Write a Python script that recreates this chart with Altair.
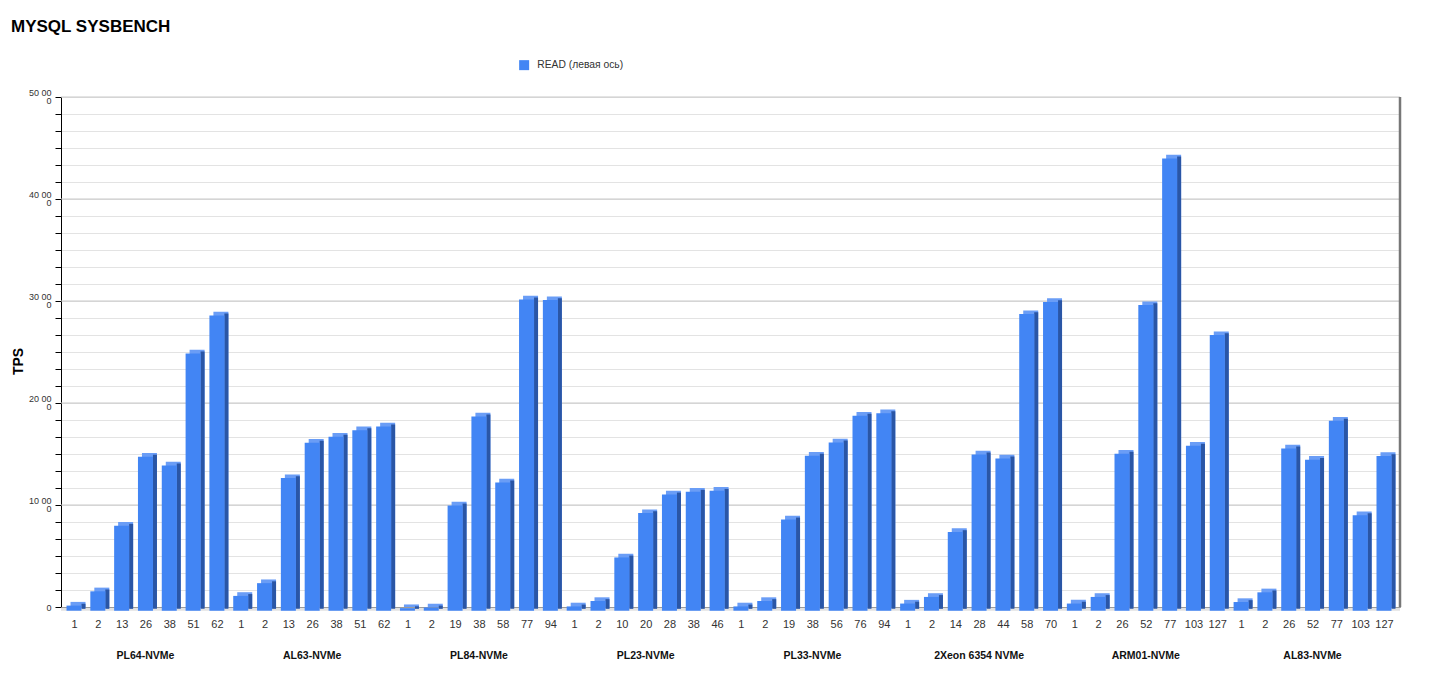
import altair as alt
import pandas as pd

# ---------------- data ----------------
groups = ["PL64-NVMe", "AL63-NVMe", "PL84-NVMe", "PL23-NVMe",
          "PL33-NVMe", "2Xeon 6354 NVMe", "ARM01-NVMe", "AL83-NVMe"]
threads = [
    ["1", "2", "13", "26", "38", "51", "62"],
    ["1", "2", "13", "26", "38", "51", "62"],
    ["1", "2", "19", "38", "58", "77", "94"],
    ["1", "2", "10", "20", "28", "38", "46"],
    ["1", "2", "19", "38", "56", "76", "94"],
    ["1", "2", "14", "28", "44", "58", "70"],
    ["1", "2", "26", "52", "77", "103", "127"],
    ["1", "2", "26", "52", "77", "103", "127"],
]
read_tps = [
    [500, 1900, 8330, 15100, 14240, 25220, 28950],
    [1450, 2700, 13000, 16470, 17060, 17700, 18070],
    [250, 320, 10320, 19050, 12580, 30520, 30450],
    [420, 950, 5220, 9570, 11400, 11670, 11760],
    [420, 950, 8950, 15200, 16500, 19120, 19370],
    [700, 1350, 7710, 15320, 14930, 29080, 30260],
    [700, 1350, 15390, 29960, 44340, 16180, 27020],
    [850, 1800, 15910, 14800, 18630, 9370, 15160],
]
series_name = "READ (левая ось)"
major_ticks = [10000, 20000, 30000, 40000, 50000]

rows = []
idx = 0
for g, (name, th, vals) in enumerate(zip(groups, threads, read_tps)):
    for t, v in zip(th, vals):
        rows.append({"idx": idx, "group": name, "thread": t, "tps": v, "series": series_name})
        idx += 1
df = pd.DataFrame(rows)
all_labels = [r["thread"] for r in rows]

group_df = pd.DataFrame({
    "group": groups,
    "center": [sum(len(t) for t in threads[:i]) + (len(threads[i]) - 1) / 2 for i in range(len(groups))],
})

# ---------------- styling ----------------
FONT = "Liberation Sans"
BLUE = "#4285F4"
TOP = "#6A9DF6"
SIDE = "#2A56A6"
XMIN, XMAX = -0.546, 55.672
W, H = 1339, 510
BW = 15          # front face width (px)
DX, DY = 4, 3.7  # 3D depth

grid_vals = [i * 50000 / 30 for i in range(31)]
label_js = "[" + ",".join("'" + s + "'" for s in all_labels) + "]"

xscale = alt.Scale(domain=[XMIN, XMAX], nice=False, zero=False, padding=0)
yscale = alt.Scale(domain=[0, 50000], nice=False, padding=0)

x_axis = alt.Axis(values=list(range(len(rows))), labelExpr=label_js + "[datum.value]",
                  grid=False, ticks=False, domain=True, domainColor="#555555",
                  labelFont=FONT, labelFontSize=11, labelColor="#333333",
                  labelPadding=11, labelFlush=False, labelOverlap=False)
y_axis = alt.Axis(values=grid_vals, grid=True, gridColor="#e3e3e3", gridWidth=1,
                  labelExpr="datum.value == 0 ? '0' : (abs(datum.value % 10000) < 0.5 ? "
                            "[toString(floor(datum.value / 1000)) + ' 00', '0'] : '')",
                  labelFont=FONT, labelFontSize=9, labelColor="#333333",
                  labelLineHeight=8, labelPadding=4, labelFlush=False, labelOverlap=False,
                  labelOffset={"condition": {"test": "datum.value > 0", "value": -5}, "value": 0},
                  tickSize=6, tickColor="#000000", domainColor="#000000",
                  titleFont=FONT, titleFontSize=14, titleFontWeight="bold",
                  titleColor="#000000", titlePadding=3, titleY=264)

X = alt.X("idx:Q", scale=xscale, title=None, axis=x_axis)
Y = alt.Y("tps:Q", scale=yscale, title="TPS", axis=y_axis)

base = alt.Chart(df).encode(x=X, y=Y, y2=alt.datum(0))

# major grid lines (darker), drawn behind the bars
majors = alt.Chart(pd.DataFrame({"tick": major_ticks})).mark_rule(
    color="#c8c8c8", strokeWidth=1
).encode(y=alt.Y("tick:Q", scale=yscale, title="TPS", axis=y_axis))

one = pd.DataFrame({"k": [0]})
floor = alt.Chart(one).mark_rule(color="#e2e2e2", strokeWidth=3.2, yOffset=2.2).encode(
    y=alt.Y(datum=0, type="quantitative", scale=yscale, title="TPS", axis=y_axis)
)

back = base.mark_bar(width=BW, xOffset=DX, color=TOP)
side = base.mark_bar(width=DX, xOffset=BW / 2 + DX / 2, yOffset=DY / 2, y2Offset=DY / 2, color=SIDE)
front = base.mark_bar(width=BW, yOffset=DY, y2Offset=DY).encode(
    color=alt.Color("series:N", scale=alt.Scale(domain=[series_name], range=[BLUE]),
                    legend=alt.Legend(title=None, orient="none", legendX=458, legendY=-37,
                                      symbolType="square", symbolSize=100, symbolStrokeWidth=0,
                                      labelFont=FONT, labelFontSize=10.3, labelColor="#333333",
                                      labelOffset=8))
)

wall = alt.Chart(one).mark_rule(color="#777777", strokeWidth=2.5).encode(
    x=alt.X(datum=XMAX, type="quantitative", scale=xscale, title=None, axis=x_axis)
)

group_text = alt.Chart(group_df).mark_text(
    font=FONT, fontSize=10.5, fontWeight="bold", color="#111111", baseline="middle"
).encode(
    x=alt.X("center:Q", scale=xscale, title=None, axis=x_axis),
    y=alt.value(559),
    text="group:N",
)

chart = alt.layer(majors, floor, back, side, front, wall, group_text).properties(
    width=W, height=H,
    padding={"left": 53, "top": 89, "right": 30, "bottom": 55},
    autosize=alt.AutoSizeParams(type="none"),
    background="white",
    title=alt.TitleParams("MYSQL SYSBENCH", anchor="start", frame="group", dx=-50, dy=-20,
                          font=FONT, fontSize=17, fontWeight="bold", color="#000000"),
).configure_view(stroke=None)

chart.save("out.html", embed_options={"renderer": "svg", "actions": False})
